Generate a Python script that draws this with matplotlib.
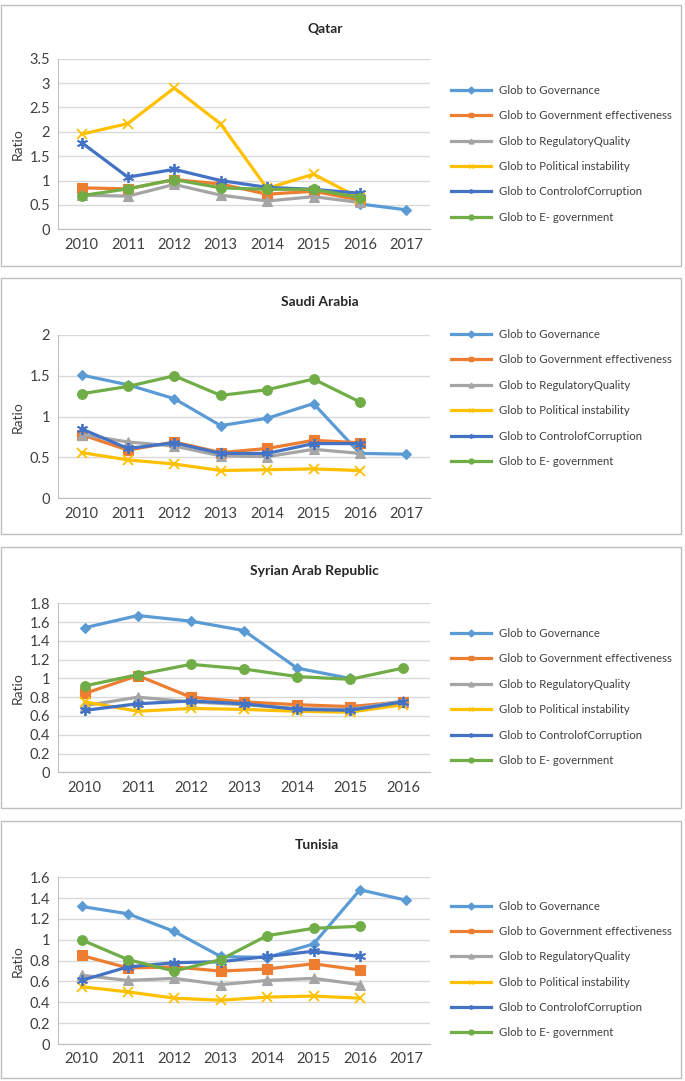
import matplotlib
matplotlib.use("Agg")
import matplotlib.pyplot as plt
import numpy as np
from matplotlib.lines import Line2D
from matplotlib.patches import Rectangle

nan = np.nan

W, H = 685, 1081

years_8 = ["2010", "2011", "2012", "2013", "2014", "2015", "2016", "2017"]
years_7 = years_8[:7]

series_names = [
    "Glob to Governance",
    "Glob to Government effectiveness",
    "Glob to RegulatoryQuality",
    "Glob to Political instability",
    "Glob to ControlofCorruption",
    "Glob to E- government",
]

# Qatar
qatar_governance = [nan, nan, nan, nan, nan, nan, 0.52, 0.40]
qatar_effectiveness = [0.85, 0.83, 1.02, 0.93, 0.72, 0.78, 0.60, nan]
qatar_regulatory = [0.70, 0.68, 0.92, 0.70, 0.58, 0.67, 0.55, nan]
qatar_political = [1.95, 2.17, 2.90, 2.16, 0.84, 1.13, 0.64, nan]
qatar_corruption = [1.78, 1.07, 1.23, 1.00, 0.86, 0.82, 0.74, nan]
qatar_egov = [0.69, 0.83, 1.02, 0.85, 0.82, 0.82, 0.65, nan]

# Saudi Arabia
saudi_governance = [1.51, 1.39, 1.22, 0.89, 0.98, 1.16, 0.55, 0.54]
saudi_effectiveness = [0.78, 0.59, 0.69, 0.56, 0.61, 0.71, 0.68, nan]
saudi_regulatory = [0.78, 0.69, 0.64, 0.52, 0.51, 0.60, 0.55, nan]
saudi_political = [0.56, 0.47, 0.42, 0.34, 0.35, 0.36, 0.34, nan]
saudi_corruption = [0.85, 0.61, 0.68, 0.55, 0.55, 0.67, 0.67, nan]
saudi_egov = [1.28, 1.37, 1.50, 1.26, 1.33, 1.46, 1.18, nan]

# Syrian Arab Republic
syria_governance = [1.54, 1.67, 1.61, 1.51, 1.11, 1.00, nan]
syria_effectiveness = [0.84, 1.03, 0.80, 0.75, 0.72, 0.70, 0.75]
syria_regulatory = [0.71, 0.80, 0.75, 0.72, 0.68, 0.67, 0.76]
syria_political = [0.75, 0.65, 0.68, 0.67, 0.65, 0.64, 0.72]
syria_corruption = [0.66, 0.73, 0.76, 0.73, 0.67, 0.66, 0.75]
syria_egov = [0.92, 1.04, 1.15, 1.10, 1.02, 0.99, 1.11]

# Tunisia
tunisia_governance = [1.32, 1.25, 1.08, 0.84, 0.83, 0.96, 1.48, 1.38]
tunisia_effectiveness = [0.85, 0.73, 0.74, 0.70, 0.72, 0.77, 0.71, nan]
tunisia_regulatory = [0.66, 0.61, 0.63, 0.57, 0.61, 0.63, 0.57, nan]
tunisia_political = [0.55, 0.50, 0.44, 0.42, 0.45, 0.46, 0.44, nan]
tunisia_corruption = [0.61, 0.74, 0.78, 0.79, 0.84, 0.89, 0.84, nan]
tunisia_egov = [1.00, 0.81, 0.70, 0.81, 1.04, 1.11, 1.13, nan]

colors = ["#5B9BD5", "#ED7D31", "#A5A5A5", "#FFC000", "#4472C4", "#70AD47"]
markers = ["D", "s", "^", "x", (6, 2, 0), "o"]
marker_sizes = [5.5, 6.5, 6.5, 7, 8, 7]

FONT = "Lato"


def px_rect(left, top, right, bottom):
    # pixel box -> figure fraction
    return [left / W, 1 - bottom / H, (right - left) / W, (bottom - top) / H]


def draw_panel(fig, box, ax_box, title, title_x, years, data, y_max, y_step, legend_y):
    # outer border of the chart
    l, t, r, b = box
    fig.patches.append(Rectangle((l / W, 1 - b / H), (r - l) / W, (b - t) / H,
                                 transform=fig.transFigure, fill=False,
                                 edgecolor="#BFBFBF", linewidth=1.0))

    ax = fig.add_axes(px_rect(*ax_box))
    x = np.arange(len(years))
    for i, values in enumerate(data):
        ax.plot(x, values, color=colors[i], marker=markers[i], markersize=marker_sizes[i],
                linewidth=2.3, markeredgewidth=1.3 if i in (3, 4) else 0.8,
                markeredgecolor=colors[i], label=series_names[i])

    ticks = np.round(np.arange(0, y_max + y_step / 2, y_step), 2)
    ax.set_ylim(0, y_max)
    ax.set_yticks(ticks)
    ax.set_yticklabels([f"{v:g}" for v in ticks], fontsize=10.5, family=FONT, color="#404040")
    ax.set_xlim(-0.5, len(years) - 0.5)
    ax.set_xticks(x)
    ax.set_xticklabels(years, fontsize=10.5, family=FONT, color="#404040")
    ax.tick_params(length=0, pad=6)
    ax.grid(axis="y", color="#D9D9D9", linewidth=1.0)
    ax.set_axisbelow(True)
    for side in ["top", "right"]:
        ax.spines[side].set_visible(False)
    ax.spines["left"].set_color("#BFBFBF")
    ax.spines["bottom"].set_color("#BFBFBF")
    ax.set_ylabel("Ratio", fontsize=10, family=FONT, color="#404040")
    ax.yaxis.set_label_coords(-(58.3 - 24) / (ax_box[2] - ax_box[0]), 0.5)

    fig.text(title_x / W, 1 - (t + 24) / H, title,
             ha="center", va="center", fontsize=10, fontweight="bold", family=FONT,
             color="#262626")

    handles = [Line2D([], [], color=colors[i], marker=markers[i], markersize=3.5,
                      linewidth=2.3, markeredgewidth=1.0) for i in range(6)]
    ax.legend(handles, series_names, loc="center left",
              bbox_to_anchor=(451 / W, 1 - legend_y / H), bbox_transform=fig.transFigure,
              frameon=False, prop={"family": FONT, "size": 8.2}, handlelength=3.5,
              handletextpad=0.7, labelspacing=1.26, borderpad=0, borderaxespad=0,
              labelcolor="#404040")
    return ax


def main():
    fig = plt.figure(figsize=(W / 100, H / 100), dpi=100)
    fig.patch.set_facecolor("white")

    draw_panel(fig, (1, 5, 681, 266), (58.3, 58.7, 429.5, 229.3), "Qatar", 325, years_8,
               [qatar_governance, qatar_effectiveness, qatar_regulatory,
                qatar_political, qatar_corruption, qatar_egov],
               3.5, 0.5, 153.7)

    draw_panel(fig, (1, 278, 681, 534), (58.3, 335, 429.5, 498.3), "Saudi Arabia", 320, years_8,
               [saudi_governance, saudi_effectiveness, saudi_regulatory,
                saudi_political, saudi_corruption, saudi_egov],
               2.0, 0.5, 398)

    draw_panel(fig, (1, 547, 681, 808), (58.3, 603.3, 429.5, 772.3), "Syrian Arab Republic", 314,
               years_7,
               [syria_governance, syria_effectiveness, syria_regulatory,
                syria_political, syria_corruption, syria_egov],
               1.8, 0.2, 697)

    draw_panel(fig, (1, 821, 681, 1078), (58.3, 877.3, 429.5, 1044), "Tunisia", 317, years_8,
               [tunisia_governance, tunisia_effectiveness, tunisia_regulatory,
                tunisia_political, tunisia_corruption, tunisia_egov],
               1.6, 0.2, 969.5)

    fig.savefig("out.png", dpi=100, facecolor="white")


if __name__ == "__main__":
    main()
